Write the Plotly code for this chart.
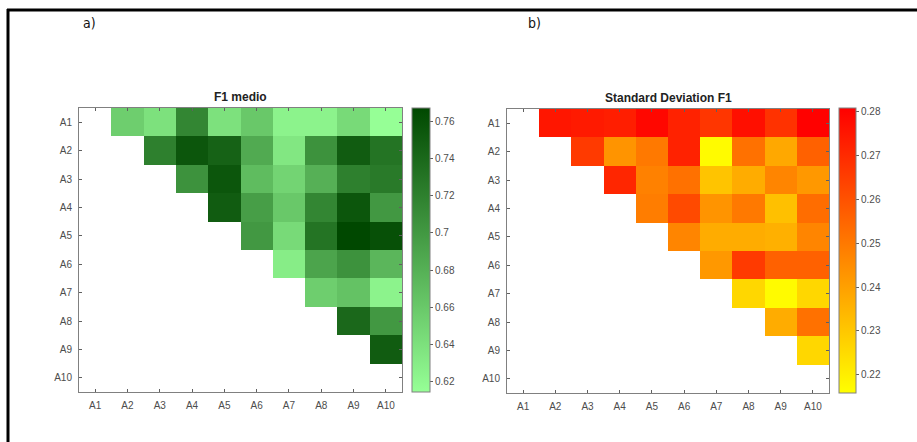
import plotly.graph_objects as go
import numpy as np

labels = ["A1", "A2", "A3", "A4", "A5", "A6", "A7", "A8", "A9", "A10"]

# Upper-triangle values, row Ai -> columns A(i+1)..A10
f1_rows = [
    [0.655, 0.640, 0.715, 0.640, 0.660, 0.625, 0.625, 0.645, 0.615],
    [0.720, 0.755, 0.745, 0.685, 0.635, 0.705, 0.750, 0.730],
    [0.705, 0.755, 0.670, 0.650, 0.680, 0.720, 0.725],
    [0.750, 0.695, 0.660, 0.715, 0.755, 0.700],
    [0.700, 0.645, 0.730, 0.767, 0.760],
    [0.630, 0.690, 0.705, 0.675],
    [0.655, 0.665, 0.625],
    [0.740, 0.700],
    [0.750],
]

sd_rows = [
    [0.275, 0.274, 0.273, 0.279, 0.272, 0.267, 0.277, 0.268, 0.2805],
    [0.266, 0.243, 0.250, 0.272, 0.217, 0.252, 0.238, 0.256],
    [0.271, 0.248, 0.252, 0.231, 0.237, 0.247, 0.242],
    [0.249, 0.262, 0.243, 0.250, 0.232, 0.253],
    [0.247, 0.237, 0.237, 0.236, 0.247],
    [0.242, 0.266, 0.256, 0.256],
    [0.226, 0.217, 0.226],
    [0.237, 0.252],
    [0.226],
]

f1_ticks = [0.62, 0.64, 0.66, 0.68, 0.70, 0.72, 0.74, 0.76]
f1_ticktext = ["0.62", "0.64", "0.66", "0.68", "0.7", "0.72", "0.74", "0.76"]
sd_ticks = [0.22, 0.23, 0.24, 0.25, 0.26, 0.27, 0.28]
sd_ticktext = ["0.22", "0.23", "0.24", "0.25", "0.26", "0.27", "0.28"]


def to_matrix(rows):
    n = len(labels)
    m = [[None] * n for _ in range(n)]
    for i, r in enumerate(rows):
        for k, v in enumerate(r):
            m[i][i + 1 + k] = v
    return m


W, H = 917, 442


def px(x):
    return x / W


def py(y):
    return 1 - y / H


fig = go.Figure()

tickfont = dict(family="Liberation Sans, Arial, sans-serif", size=10, color="#4d4d4d")

fig.add_trace(go.Heatmap(
    z=to_matrix(f1_rows), x=labels, y=labels,
    colorscale=[[0, "rgb(150,255,150)"], [1, "rgb(0,72,0)"]],
    zmin=0.6146, zmax=0.767,
    xaxis="x", yaxis="y", hoverongaps=False,
    colorbar=dict(
        x=px(412), xanchor="left", y=py(108), yanchor="top",
        len=284, lenmode="pixels", thickness=18, thicknessmode="pixels",
        outlinecolor="#808080", outlinewidth=1,
        tickvals=f1_ticks, ticktext=f1_ticktext,
        ticks="outside", ticklen=3, tickcolor="#606060",
        tickfont=tickfont, xpad=0, ypad=0,
    ),
))

fig.add_trace(go.Heatmap(
    z=to_matrix(sd_rows), x=labels, y=labels,
    colorscale=[[0, "rgb(255,255,0)"], [1, "rgb(255,0,0)"]],
    zmin=0.2159, zmax=0.2807,
    xaxis="x2", yaxis="y2", hoverongaps=False,
    colorbar=dict(
        x=px(839), xanchor="left", y=py(108), yanchor="top",
        len=285, lenmode="pixels", thickness=17, thicknessmode="pixels",
        outlinecolor="#808080", outlinewidth=1,
        tickvals=sd_ticks, ticktext=sd_ticktext,
        ticks="outside", ticklen=3, tickcolor="#606060",
        tickfont=tickfont, xpad=0, ypad=0,
    ),
))

axis_common = dict(
    type="category", showline=True, linecolor="#808080", linewidth=1,
    mirror="ticks", ticks="inside", ticklen=3, tickcolor="#606060",
    tickfont=tickfont, showgrid=False, zeroline=False, fixedrange=True,
    ticklabelstandoff=4,
)

fig.update_layout(
    width=W, height=H,
    margin=dict(l=0, r=0, t=0, b=0),
    paper_bgcolor="white", plot_bgcolor="white",
    showlegend=False,
    xaxis=dict(domain=[px(79), px(402)], anchor="y", **axis_common),
    yaxis=dict(domain=[py(392), py(108)], anchor="x", autorange="reversed", **axis_common),
    xaxis2=dict(domain=[px(507), px(829)], anchor="y2", **axis_common),
    yaxis2=dict(domain=[py(393), py(109)], anchor="x2", autorange="reversed", **axis_common),
)

title_font = dict(family="Liberation Sans, Arial, sans-serif", size=12, color="#222222")
fig.add_annotation(text="<b>F1 medio</b>", x=px((79 + 402) / 2), y=py(97), xref="paper", yref="paper",
                   showarrow=False, font=title_font, xanchor="center", yanchor="middle")
fig.add_annotation(text="<b>Standard Deviation F1</b>", x=px((507 + 829) / 2), y=py(98), xref="paper", yref="paper",
                   showarrow=False, font=title_font, xanchor="center", yanchor="middle")

label_font = dict(family="DejaVu Sans Condensed, DejaVu Sans, sans-serif", size=14, color="#111111")
fig.add_annotation(text="a)", x=px(81), y=py(23), xref="paper", yref="paper",
                   showarrow=False, font=label_font, xanchor="left", yanchor="middle")
fig.add_annotation(text="b)", x=px(526), y=py(23), xref="paper", yref="paper",
                   showarrow=False, font=label_font, xanchor="left", yanchor="middle")

# Frame lines (top and left)
fig.add_shape(type="line", xref="paper", yref="paper", x0=px(7), x1=1, y0=py(10), y1=py(10),
              line=dict(color="black", width=3))
fig.add_shape(type="line", xref="paper", yref="paper", x0=px(8), x1=px(8), y0=py(9), y1=0,
              line=dict(color="black", width=3))

fig.write_html("out.html")
